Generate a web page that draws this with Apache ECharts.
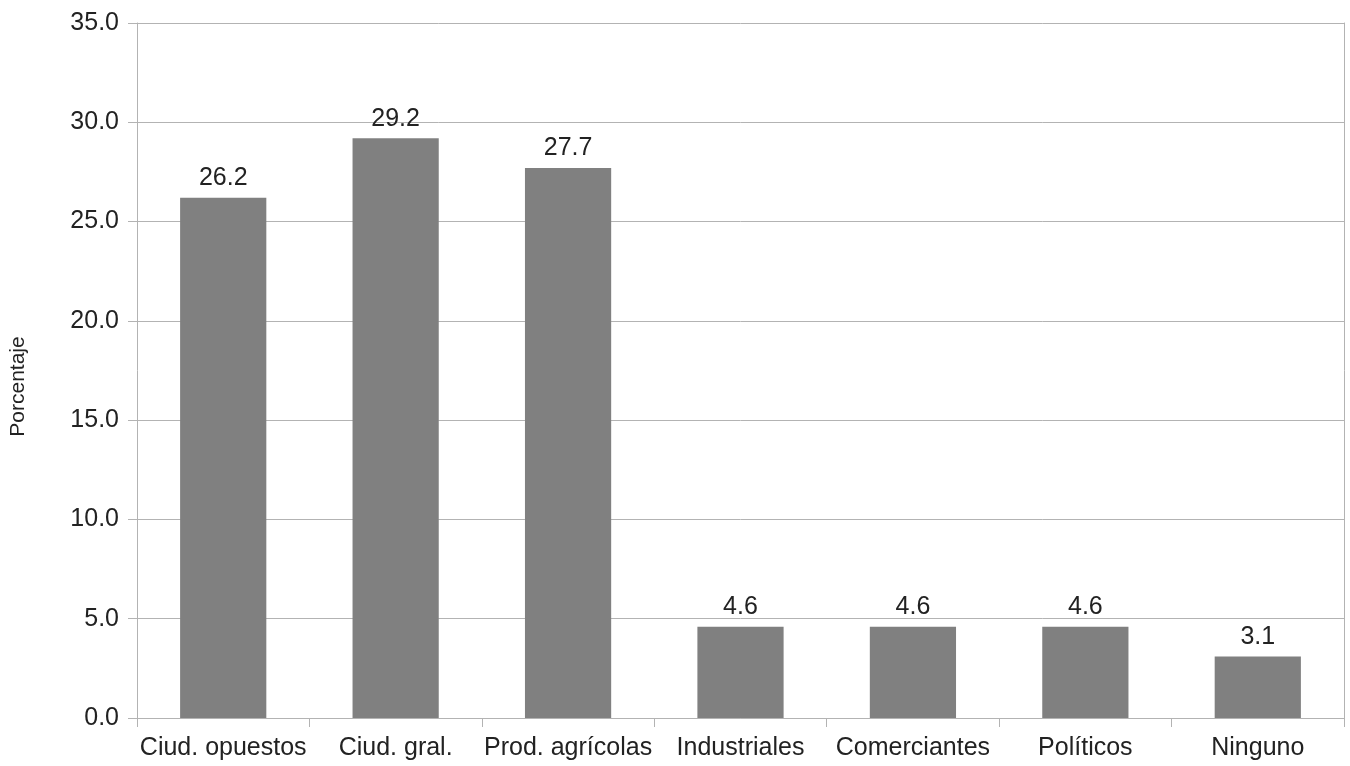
<!DOCTYPE html>
<html>
<head>
<meta charset="utf-8">
<script src="https://cdn.jsdelivr.net/npm/echarts@6/dist/echarts.min.js"></script>
<style>
  html, body { margin: 0; padding: 0; background: #fff; }
  #chart { width: 1350px; height: 766px; }
</style>
</head>
<body>
<div id="chart"></div>
<script>
// categorías y valores (porcentaje)
const categories = ['Ciud. opuestos', 'Ciud. gral.', 'Prod. agrícolas', 'Industriales', 'Comerciantes', 'Políticos', 'Ninguno'];
const values = [26.2, 29.2, 27.7, 4.6, 4.6, 4.6, 3.1];
const yMin = 0;
const yMax = 35;
const yStep = 5;

const lineColor = '#b3b3b3';
const textColor = '#222';
const font = 'Liberation Sans';

let myChart = echarts.init(document.getElementById('chart'));
let options = {
  animation: false,
  grid: { left: 135, right: 6, top: 23, bottom: 48 },
  xAxis: {
    type: 'category',
    data: categories,
    axisLine: { lineStyle: { color: lineColor, width: 1 } },
    axisTick: { show: true, length: 9, alignWithLabel: false, lineStyle: { color: lineColor } },
    axisLabel: { color: textColor, fontFamily: font, fontSize: 25, margin: 18, interval: 0 }
  },
  yAxis: [
    {
      type: 'value',
      min: yMin,
      max: yMax,
      interval: yStep,
      name: 'Porcentaje',
      nameLocation: 'middle',
      nameGap: 108,
      nameTextStyle: { color: textColor, fontFamily: font, fontSize: 21, padding: [0, 32, 0, 0] },
      axisLine: { show: true, lineStyle: { color: lineColor } },
      axisTick: { show: true, length: 9, lineStyle: { color: lineColor } },
      splitLine: { show: true, lineStyle: { color: lineColor } },
      axisLabel: {
        color: textColor, fontFamily: font, fontSize: 25, margin: 18,
        formatter: v => v.toFixed(1)
      }
    },
    {
      // borde derecho
      type: 'value',
      position: 'right',
      min: yMin,
      max: yMax,
      interval: yStep,
      axisLine: { show: true, lineStyle: { color: lineColor } },
      axisTick: { show: false },
      axisLabel: { show: false },
      splitLine: { show: false }
    }
  ],
  series: [
    {
      type: 'bar',
      data: values,
      barCategoryGap: '50%',
      itemStyle: { color: '#808080' },
      label: {
        show: true,
        position: 'top',
        distance: 7,
        color: textColor,
        fontFamily: font,
        fontSize: 25,
        formatter: p => p.value.toFixed(1)
      }
    }
  ]
};
myChart.setOption(options);
</script>
</body>
</html>
